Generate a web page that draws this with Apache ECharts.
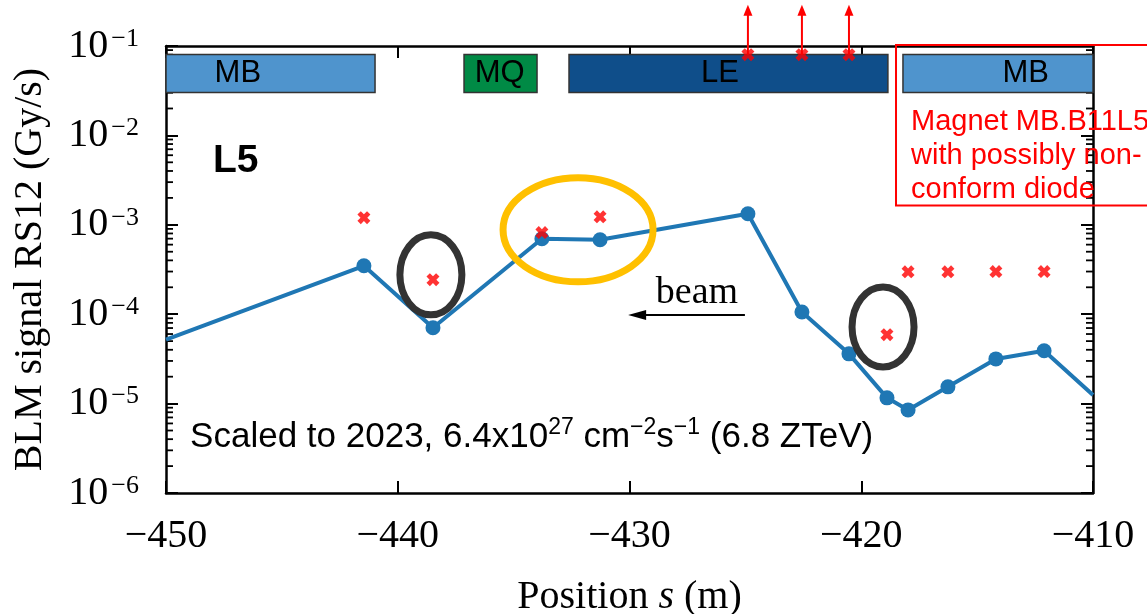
<!DOCTYPE html>
<html><head><meta charset="utf-8">
<script src="https://cdn.jsdelivr.net/npm/echarts@6/dist/echarts.min.js"></script>
<style>html,body{margin:0;padding:0;background:#fff}#c{width:1147px;height:614px}</style>
</head><body><div id="c"></div>
<script>
// ---------- data ----------
const xTicks = [-450, -440, -430, -420, -410];
const yTickExponents = [-6, -5, -4, -3, -2, -1];
const blmPositions = [-450, -441.46, -438.48, -433.78, -431.27, -424.89, -422.56, -420.53, -418.89, -417.98, -416.26, -414.19, -412.11, -410];
const blmSignal    = [5.2e-5, 3.48e-4, 7.05e-5, 6.98e-4, 6.8e-4, 1.33e-3, 1.06e-4, 3.6e-5, 1.16e-5, 8.5e-6, 1.54e-5, 3.16e-5, 3.9e-5, 1.25e-5];
const crossPositions = [-441.46, -438.48, -433.78, -431.27, -418.89, -417.98, -416.26, -414.19, -412.11];
const crossValues    = [1.2e-3, 2.43e-4, 8.2e-4, 1.23e-3, 5.9e-5, 2.98e-4, 2.98e-4, 3.0e-4, 3.0e-4];
const offscalePositions = [-424.89, -422.56, -420.53];
const offscaleValues    = [0.08, 0.08, 0.08];
const magnetNames   = ['MB', 'MQ', 'LE', 'MB'];
const magnetStart   = [-450, -437.14, -432.61, -418.2];
const magnetEnd     = [-440.98, -433.99, -418.85, -410];
const magnetLabelAt = [-446.9, -435.6, -426.1, -412.9];

// ---------- styling ----------
const magnetColors = {MB: '#4f94cd', MQ: '#008a45', LE: '#0f4e8a'};
const BAR_TOP = 0.0803, BAR_BOTTOM = 0.0301, BAR_MID = 0.049, ARROW_TOP = 0.29;
const SERIF = '"Liberation Serif", "Times New Roman", serif';
const SANS = '"Liberation Sans", Arial, sans-serif';
const CROSS = 'path://M0,2.6 L2.6,0 L5,2.4 L7.4,0 L10,2.6 L7.6,5 L10,7.4 L7.4,10 L5,7.6 L2.6,10 L0,7.4 L2.4,5 Z';

const xMin = xTicks[0], xMax = xTicks[xTicks.length - 1];
const minorValues = [];
for (let e = yTickExponents[0]; e < yTickExponents[yTickExponents.length - 1]; e++)
  for (let k = 2; k <= 9; k++) minorValues.push([xMin, k * Math.pow(10, e)]);

const chart = echarts.init(document.getElementById('c'), null, {renderer: 'canvas'});

const axisLineStyle = {color: '#000', width: 2.5};
const tickStyle = {inside: true, length: 12, lineStyle: {color: '#000', width: 2}};
const option = {
  animation: false,
  backgroundColor: '#fff',
  grid: {left: 166, right: 54, top: 46, bottom: 121, containLabel: false, outerBoundsMode: 'none'},
  xAxis: [{
    type: 'value', min: xMin, max: xMax, interval: 10, position: 'bottom',
    axisLine: {onZero: false, lineStyle: axisLineStyle},
    axisTick: tickStyle,
    splitLine: {show: false},
    axisLabel: {formatter: v => String(v).replace('-', '\u2212'), fontFamily: SERIF, fontSize: 40, color: '#000', margin: 23},
    name: '{n|Position }{i|s}{n| (m)}', nameLocation: 'middle', nameGap: 84,
    nameTextStyle: {rich: {n: {fontFamily: SERIF, fontSize: 40, color: '#000'}, i: {fontFamily: SERIF, fontSize: 40, fontStyle: 'italic', color: '#000'}}}
  }, {
    type: 'value', min: xMin, max: xMax, interval: 10, position: 'top',
    axisLine: {onZero: false, lineStyle: axisLineStyle},
    axisTick: tickStyle,
    splitLine: {show: false}, axisLabel: {show: false}
  }],
  yAxis: [{
    type: 'log', logBase: 10, min: Math.pow(10, yTickExponents[0]), max: Math.pow(10, yTickExponents[yTickExponents.length - 1]), interval: 1,
    position: 'left',
    axisLine: {onZero: false, lineStyle: axisLineStyle},
    axisTick: tickStyle,
    splitLine: {show: false},
    axisLabel: {
      margin: 27,
      formatter: v => '{b|10}{s|\u2212' + Math.abs(Math.round(Math.log10(v))) + '}',
      rich: {
        b: {fontFamily: SERIF, fontSize: 40, color: '#000', lineHeight: 40, verticalAlign: 'bottom'},
        s: {fontFamily: SERIF, fontSize: 26, color: '#000', lineHeight: 26, verticalAlign: 'top', padding: [0, 0, 20, 3]}
      }
    },
    name: 'BLM signal RS12 (Gy/s)', nameLocation: 'middle', nameGap: 116,
    nameTextStyle: {fontFamily: SERIF, fontSize: 40, color: '#000'}
  }, {
    type: 'log', logBase: 10, min: Math.pow(10, yTickExponents[0]), max: Math.pow(10, yTickExponents[yTickExponents.length - 1]), interval: 1,
    position: 'right',
    axisLine: {onZero: false, lineStyle: axisLineStyle},
    axisTick: tickStyle,
    splitLine: {show: false}, axisLabel: {show: false}
  }],
  series: [
    { // minor log ticks on left and right axes
      type: 'custom', xAxisIndex: 0, yAxisIndex: 0, z: 6, silent: true, clip: false,
      data: minorValues,
      renderItem(params, api) {
        const l = api.coord([xMin, api.value(1)]);
        const r = api.coord([xMax, api.value(1)]);
        return {type: 'group', children: [
          {type: 'line', shape: {x1: l[0], y1: l[1], x2: l[0] + 7, y2: l[1]}, style: {stroke: '#000', lineWidth: 1.8}},
          {type: 'line', shape: {x1: r[0] - 7, y1: r[1], x2: r[0], y2: r[1]}, style: {stroke: '#000', lineWidth: 1.8}}
        ]};
      }
    },
    { // magnet blocks
      type: 'custom', xAxisIndex: 0, yAxisIndex: 0, z: 7, silent: true, clip: false,
      data: magnetNames.map((n, i) => [magnetStart[i], magnetEnd[i], magnetLabelAt[i], i]),
      renderItem(params, api) {
        const i = api.value(3);
        const p0 = api.coord([api.value(0), BAR_TOP]);
        const p1 = api.coord([api.value(1), BAR_BOTTOM]);
        const lc = api.coord([api.value(2), BAR_MID]);
        return {type: 'group', children: [
          {type: 'rect', shape: {x: p0[0], y: p0[1], width: p1[0] - p0[0], height: p1[1] - p0[1]},
           style: {fill: magnetColors[magnetNames[i]], stroke: '#333', lineWidth: 1.5}},
          {type: 'text', style: {text: magnetNames[i], x: lc[0], y: lc[1], align: 'center', verticalAlign: 'middle',
            font: '31px ' + SANS, fill: '#000'}}
        ]};
      }
    },
    {
      type: 'line', xAxisIndex: 0, yAxisIndex: 0, z: 8,
      data: blmPositions.map((x, i) => ({value: [x, blmSignal[i]], symbol: (i === 0 || i === blmPositions.length - 1) ? 'none' : 'circle'})),
      symbolSize: 15, lineStyle: {color: '#1f77b4', width: 4}, itemStyle: {color: '#1f77b4'}
    },
    {
      type: 'scatter', xAxisIndex: 0, yAxisIndex: 0, z: 9,
      data: crossPositions.map((x, i) => [x, crossValues[i]]),
      symbol: CROSS, symbolSize: 13, itemStyle: {color: '#ff0000'}
    },
    {
      type: 'scatter', xAxisIndex: 0, yAxisIndex: 0, z: 9,
      data: offscalePositions.map((x, i) => [x, offscaleValues[i]]),
      symbol: CROSS, symbolSize: 13, itemStyle: {color: '#ff0000'}
    },
    { // arrows for off-scale values
      type: 'custom', xAxisIndex: 0, yAxisIndex: 0, z: 9, silent: true, clip: false,
      data: offscalePositions.map((x, i) => [x, offscaleValues[i]]),
      renderItem(params, api) {
        const p = api.coord([api.value(0), api.value(1)]);
        const t = api.coord([api.value(0), ARROW_TOP]);
        return {type: 'group', children: [
          {type: 'line', shape: {x1: p[0], y1: p[1], x2: t[0], y2: t[1] + 8}, style: {stroke: '#ff0000', lineWidth: 2}},
          {type: 'polygon', shape: {points: [[t[0] - 4.5, t[1] + 11], [t[0] + 4.5, t[1] + 11], [t[0], t[1]]]}, style: {fill: '#ff0000'}}
        ]};
      }
    }
  ]
};
chart.setOption(option);

// ---------- annotations anchored at data coordinates ----------
const P = (x, y) => chart.convertToPixel({gridIndex: 0}, [x, y]);
const eL = P(-438.57, 2.76e-4), eR = P(-419.06, 7.2e-5), eO = P(-432.22, 8.8e-4);
const l5 = P(-447.97, 5.1e-3), beam = P(-427.09, 1.72e-4);
const a0 = P(-425.02, 9.8e-5), a1 = P(-430.06, 9.8e-5);
const sc = P(-448.96, 4.4e-6);
const boxTL = P(-418.5, 0.1), boxB = P(-418.5, 1.64e-3);
const red = P(-417.85, 5.94e-3);

chart.setOption({graphic: [
  {type: 'ellipse', z: 100, shape: {cx: eL[0], cy: eL[1], rx: 31, ry: 40}, style: {fill: 'none', stroke: '#333', lineWidth: 7}},
  {type: 'ellipse', z: 100, shape: {cx: eR[0], cy: eR[1], rx: 31, ry: 40}, style: {fill: 'none', stroke: '#333', lineWidth: 7}},
  {type: 'ellipse', z: 100, shape: {cx: eO[0], cy: eO[1], rx: 75, ry: 52}, style: {fill: 'none', stroke: '#ffc000', lineWidth: 7}},
  {type: 'text', z: 100, style: {text: 'L5', x: l5[0], y: l5[1], align: 'left', verticalAlign: 'middle', font: 'bold 39px ' + SANS, fill: '#000'}},
  {type: 'text', z: 100, style: {text: 'beam', x: beam[0], y: beam[1], align: 'center', verticalAlign: 'middle', font: '38px ' + SERIF, fill: '#000'}},
  {type: 'line', z: 100, shape: {x1: a0[0], y1: a0[1], x2: a1[0] + 14, y2: a1[1]}, style: {stroke: '#000', lineWidth: 2}},
  {type: 'polygon', z: 100, shape: {points: [[a1[0], a1[1]], [a1[0] + 18, a1[1] - 5], [a1[0] + 18, a1[1] + 5]]}, style: {fill: '#000'}},
  {type: 'text', z: 100, style: {
    text: '{n|Scaled to 2023, 6.4x10}{p|27}{n| cm}{p|\u22122}{n|s}{p|\u22121}{n| (6.8 ZTeV)}',
    x: sc[0], y: sc[1], align: 'left', verticalAlign: 'middle',
    rich: {
      n: {fontFamily: SANS, fontSize: 35, fill: '#000', lineHeight: 38, verticalAlign: 'bottom'},
      p: {fontFamily: SANS, fontSize: 23, fill: '#000', lineHeight: 23, verticalAlign: 'top', padding: [0, 0, 19, 0]}
    }
  }},
  {type: 'rect', z: 99, shape: {x: boxTL[0], y: boxTL[1] - 1, width: 270, height: boxB[1] - boxTL[1] + 1}, style: {fill: 'none', stroke: '#ff0000', lineWidth: 2}},
  {type: 'text', z: 99, style: {text: 'Magnet MB.B11L5\nwith possibly non-\nconform diode', x: red[0], y: red[1],
    align: 'left', verticalAlign: 'middle', font: '29px ' + SANS, lineHeight: 34, fill: '#ff0000'}}
]});
</script>
</body></html>
